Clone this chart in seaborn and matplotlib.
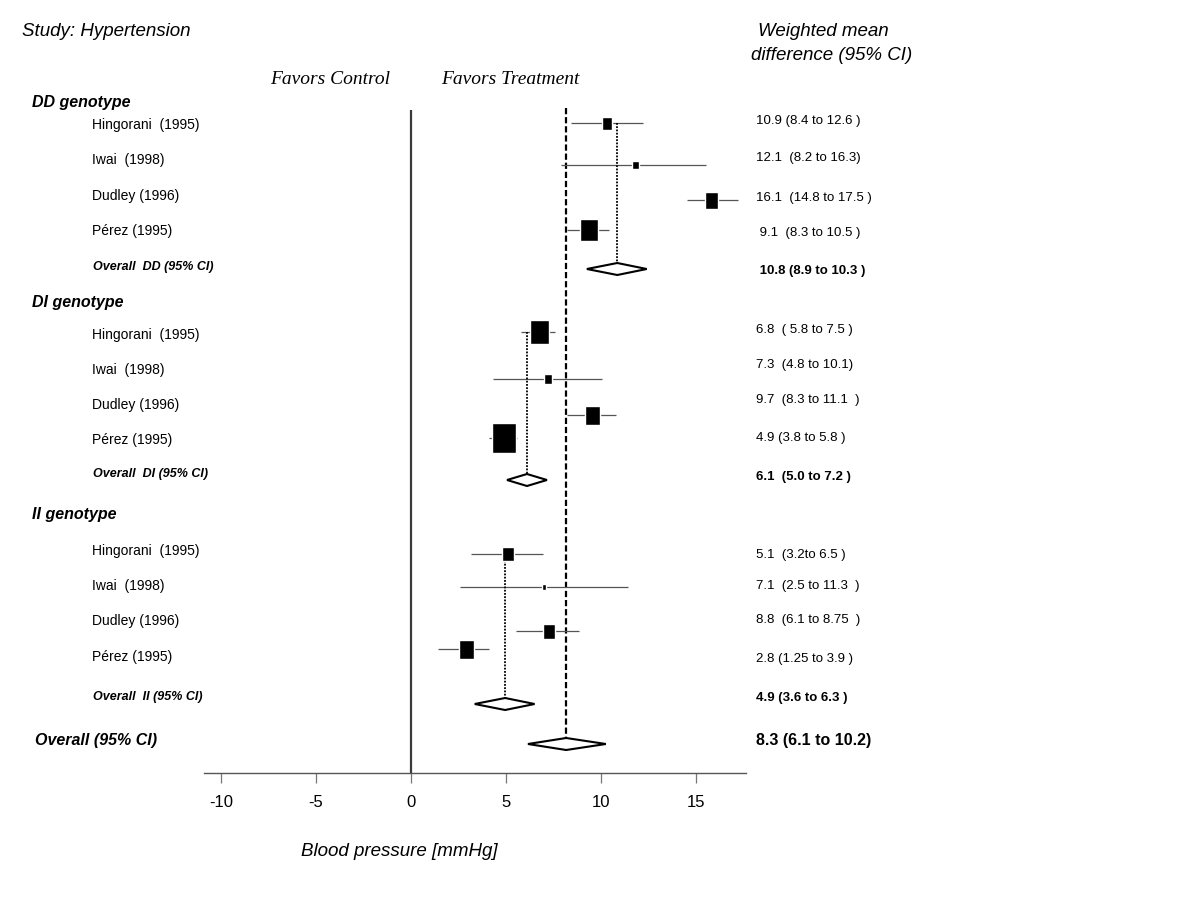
import numpy as np
import pandas as pd
import matplotlib
matplotlib.use("Agg")
from matplotlib import pyplot as plt
import seaborn as sns

sns.set_theme(style="white")
plt.rcParams['font.family'] = ['Liberation Sans', 'DejaVu Sans']
plt.rcParams['text.color'] = 'black'
plt.rcParams['xtick.color'] = 'black'

# ---- data ----
studies = ['Hingorani  (1995)', 'Iwai  (1998)', 'Dudley (1996)', 'Pérez (1995)']
groups = ['DD', 'DI', 'II']

est_DD = [10.3, 11.8, 15.8, 9.35]
lo_DD = [8.4, 7.9, 14.5, 8.2]
hi_DD = [12.2, 15.5, 17.2, 10.4]
weight_DD = [13, 8, 17, 22]

est_DI = [6.75, 7.2, 9.55, 4.9]
lo_DI = [5.8, 4.3, 8.2, 4.1]
hi_DI = [7.6, 10.05, 10.8, 5.6]
weight_DI = [24, 10, 19, 30]

est_II = [5.1, 7.0, 7.25, 2.9]
lo_II = [3.15, 2.6, 5.5, 1.4]
hi_II = [6.95, 11.4, 8.85, 4.1]
weight_II = [14, 6, 15, 19]

pooled_est = [10.85, 6.1, 4.95]
pooled_lo = [9.25, 5.05, 3.35]
pooled_hi = [12.4, 7.15, 6.5]

overall_est, overall_lo, overall_hi = 8.16, 6.15, 10.25

text_DD = ['10.9 (8.4 to 12.6 )', '12.1  (8.2 to 16.3)', '16.1  (14.8 to 17.5 )', ' 9.1  (8.3 to 10.5 )']
text_DI = ['6.8  ( 5.8 to 7.5 )', '7.3  (4.8 to 10.1)', '9.7  (8.3 to 11.1  )', '4.9 (3.8 to 5.8 )']
text_II = ['5.1  (3.2to 6.5 )', '7.1  (2.5 to 11.3  )', '8.8  (6.1 to 8.75  )', '2.8 (1.25 to 3.9 )']
pooled_text = [' 10.8 (8.9 to 10.3 )', '6.1  (5.0 to 7.2 )', '4.9 (3.6 to 6.3 )']
overall_text = '8.3 (6.1 to 10.2)'

xticks = [-10, -5, 0, 5, 10, 15]

df = pd.DataFrame({
    'group': np.repeat(groups, 4),
    'study': studies * 3,
    'est': est_DD + est_DI + est_II,
    'lo': lo_DD + lo_DI + lo_II,
    'hi': hi_DD + hi_DI + hi_II,
    'weight': weight_DD + weight_DI + weight_II,
    'text': text_DD + text_DI + text_II,
})

# ---- layout (pixel rows, y axis runs in pixels from the top) ----
W, H = 1198, 919
header_y = [102, 303, 514]
label_y = [[125, 160, 196, 231], [335, 370, 405, 440], [551, 586, 621, 657]]
mark_y = [[123, 165, 200, 230], [332, 379, 415, 438], [554, 587, 631, 649]]
value_y = [[121, 158, 198, 233], [330, 365, 400, 438], [555, 586, 620, 659]]
pooled_label_y = [267, 474, 697]
pooled_mark_y = [269, 480, 704]
pooled_value_y = [271, 477, 698]
overall_y = 744
px_per_unit = 19.0

fig = plt.figure(figsize=(W / 100, H / 100), dpi=100)
ax = fig.add_axes([203.8 / W, (H - 772.5) / H, (745.6 - 203.8) / W, 772.5 / H])
ax.set_xlim(-10.9, 17.6)
ax.set_ylim(772.5, 0)

df['y'] = sum(mark_y, [])

# zero line and overall line
ax.vlines(0, 110, 772.5, color='#3a3a3a', lw=1.6, zorder=1)
ax.vlines(overall_est, 108, overall_y - 6, color='black', lw=1.6,
          linestyles=[(0, (2.8, 1.3))], zorder=1)

# confidence intervals and weighted boxes
ax.hlines(df['y'], df['lo'], df['hi'], color='#555555', lw=0.9, zorder=2)
ax.bar(df['est'], df['weight'], width=df['weight'] * 0.8 / px_per_unit,
       bottom=df['y'] - df['weight'] / 2, color='black', zorder=3)


def diamond(x, lo, hi, y, h=6):
    ax.fill([lo, x, hi, x, lo], [y, y - h, y, y + h, y], facecolor='white',
            edgecolor='black', lw=1.5, zorder=4)


for i, g in enumerate(groups):
    diamond(pooled_est[i], pooled_lo[i], pooled_hi[i], pooled_mark_y[i])
    ax.vlines(pooled_est[i], mark_y[i][0], pooled_mark_y[i] - 6, color='black',
              lw=1.3, linestyles=[(0, (1, 0.8))], zorder=2)
diamond(overall_est, overall_lo, overall_hi, overall_y)

# axis styling
sns.despine(ax=ax, left=True)
ax.spines['bottom'].set_color('#555555')
ax.spines['bottom'].set_linewidth(1.0)
ax.set_yticks([])
ax.set_xticks(xticks)
ax.set_xticklabels([str(t) for t in xticks], fontsize=12, color='black')
ax.tick_params(axis='x', bottom=True, length=7, width=0.9, color='#777777',
               labelcolor='black', pad=9)
ax.grid(False)


def ftext(x, y, s, **kw):
    fig.text(x / W, 1 - y / H, s, va='center', ha='left', color='black', **kw)


ftext(22, 32, 'Study: Hypertension', fontsize=13.5, style='italic')
ftext(758, 32, 'Weighted mean', fontsize=13.5, style='italic')
ftext(751, 55, 'difference (95% CI)', fontsize=13.5, style='italic')
ftext(270, 80, 'Favors Control', fontsize=14, style='italic', family='Liberation Serif')
ftext(441, 80, 'Favors Treatment', fontsize=14, style='italic', family='Liberation Serif')

for i, g in enumerate(groups):
    ftext(32, header_y[i], g + ' genotype', fontsize=11.5, style='italic', weight='bold')
    sub = df[df['group'] == g].reset_index(drop=True)
    for j in range(4):
        ftext(92, label_y[i][j], sub['study'][j], fontsize=10)
        ftext(756, value_y[i][j], sub['text'][j], fontsize=9.5)
    ftext(93, pooled_label_y[i], 'Overall  ' + g + ' (95% CI)', fontsize=9,
          style='italic', weight='bold')
    ftext(756, pooled_value_y[i], pooled_text[i], fontsize=9.5, weight='bold')

ftext(35, 741, 'Overall (95% CI)', fontsize=11.5, style='italic', weight='bold')
ftext(756, 741, overall_text, fontsize=11.5, weight='bold')

ftext(301, 851, 'Blood pressure [mmHg]', fontsize=13.5, style='italic')

fig.savefig('out.png', dpi=100)
